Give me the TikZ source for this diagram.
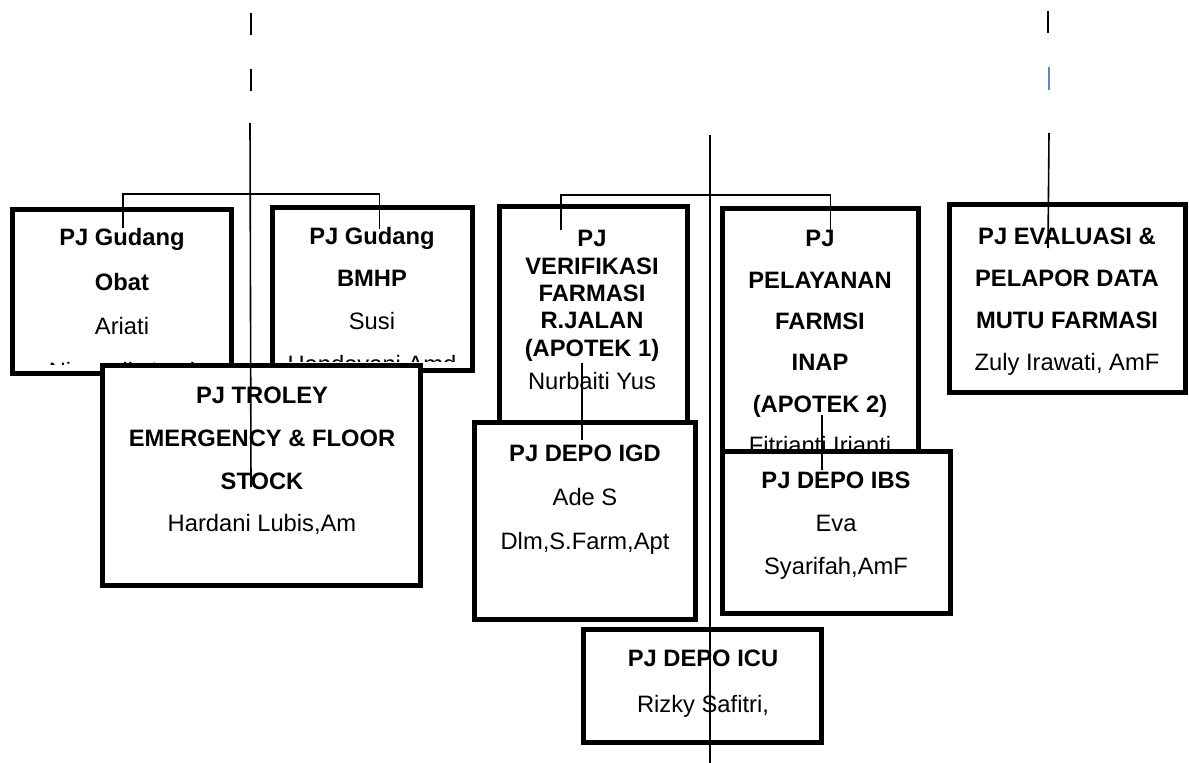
\documentclass[tikz,border=0pt]{standalone}
\usepackage{fontspec}
\setmainfont{Liberation Sans}

\definecolor{dashblue}{RGB}{91,135,197}

\begin{document}
\begin{tikzpicture}[
    x=0.75pt, y=-0.75pt,
    pjbox/.style={draw, line width=3.75pt, fill=white, inner sep=0pt},
    pjtext/.style={anchor=north, align=center, inner sep=0pt,
        font=\fontsize{17.8pt}{#1}\selectfont},
    link/.style={line width=1.2pt, black},
]
    \path[use as bounding box, fill=white] (0,0) rectangle (1189,763);

    % Gudang boxes (text cut at the box bottom)
    \node[pjbox, minimum width=164.25pt, minimum height=123pt] (obat) at (122,291.5) {};
    \begin{scope}
        \clip (15,212) rectangle (229,364);
        \node[pjtext=33.4pt] (obatTxt) at (122,228)
            {\textbf{PJ Gudang}\\\textbf{Obat}\\Ariati\\Nirwanik Amd};
    \end{scope}

    \node[pjbox, minimum width=150pt, minimum height=122.25pt] (bmhp) at (372.5,289) {};
    \begin{scope}
        \clip (275,210) rectangle (470,361);
        \node[pjtext=31.9pt] (bmhpTxt) at (372,227)
            {\textbf{PJ Gudang}\\\textbf{BMHP}\\Susi\\Handayani Amd};
    \end{scope}

    % Troley box lies over both
    \node[pjbox, minimum width=238.5pt, minimum height=165pt] (troley) at (261.5,475.5) {};
    \node[pjtext=32pt] (troleyTxt) at (262,387)
        {\textbf{PJ TROLEY}\\\textbf{EMERGENCY \& FLOOR}\\\textbf{STOCK}\\Hardani Lubis,Am};

    % Apotek 1 and its depo
    \node[pjbox, minimum width=141pt, minimum height=162pt] (verif) at (593.5,315) {};
    \node[pjtext=20.6pt] (verifTxt) at (592,230)
        {\textbf{PJ}\\\textbf{VERIFIKASI}\\\textbf{FARMASI}\\\textbf{R.JALAN}\\\textbf{(APOTEK 1)}\\[4.5pt]Nurbaiti Yus};

    \node[pjbox, minimum width=165.75pt, minimum height=147.75pt] (igd) at (585,521) {};
    \node[pjtext=33pt] (igdTxt) at (585,445)
        {\textbf{PJ DEPO IGD}\\Ade S\\Dlm,S.Farm,Apt};

    % Apotek 2 and its depo
    \node[pjbox, minimum width=147pt, minimum height=183pt] (pelay) at (820.5,330.5) {};
    \node[pjtext=31.1pt] (pelayTxt) at (820,230)
        {\textbf{PJ}\\\textbf{PELAYANAN}\\\textbf{FARMSI}\\\textbf{INAP}\\\textbf{(APOTEK 2)}\\Fitrianti Irianti};

    \node[pjbox, minimum width=171pt, minimum height=121.5pt] (ibs) at (836.5,532.5) {};
    \node[pjtext=32.25pt] (ibsTxt) at (836,472)
        {\textbf{PJ DEPO IBS}\\Eva\\Syarifah,AmF};

    \node[pjbox, minimum width=178.5pt, minimum height=84.75pt] (icu) at (702.5,686) {};
    \node[pjtext=34.5pt] (icuTxt) at (703,650)
        {\textbf{PJ DEPO ICU}\\Rizky Safitri,};

    % Evaluasi box
    \node[pjbox, minimum width=177pt, minimum height=141pt] (eval) at (1067.5,298.5) {};
    \node[pjtext=31.5pt] (evalTxt) at (1067,228)
        {\textbf{PJ EVALUASI \&}\\\textbf{PELAPOR DATA}\\\textbf{MUTU FARMASI}\\Zuly Irawati, AmF};

    % Connector ends
    \coordinate (leftHead) at (250,123);
    \coordinate (leftFoot) at (251,487);
    \coordinate (obatIn) at (123,228);
    \coordinate (bmhpIn) at (379.5,229);
    \coordinate (midHead) at (710,135);
    \coordinate (midFoot) at (710,763);
    \coordinate (verifIn) at (561,230);
    \coordinate (pelayIn) at (830.5,235);
    \coordinate (verifLow) at (582,363);
    \coordinate (igdIn) at (582,440);
    \coordinate (pelayLow) at (822,415);
    \coordinate (ibsIn) at (822,470);
    \coordinate (evalHead) at (1049,133);
    \coordinate (evalIn) at (1048,248);

    % Dashes above the left and right lines
    \foreach \y in {13, 69}
        \draw[link] (251,\y) -- ++(0,22);
    \draw[link] (1048,11) -- ++(0,22);
    \draw[link, dashblue] (1049,67) -- ++(0,23);

    % Left tree
    \draw[link] (obatIn) -- ++(0,-34) -| (bmhpIn);
    \draw[link] (leftHead) -- (leftFoot);

    % Middle tree
    \draw[link] (verifIn) -- ++(0,-35) -| (pelayIn);
    \draw[link] (midHead) -- (midFoot);
    \draw[link] (verifLow) -- (igdIn);
    \draw[link] (pelayLow) -- (ibsIn);

    % Right line
    \draw[link] (evalHead) -- (evalIn);
\end{tikzpicture}
\end{document}
